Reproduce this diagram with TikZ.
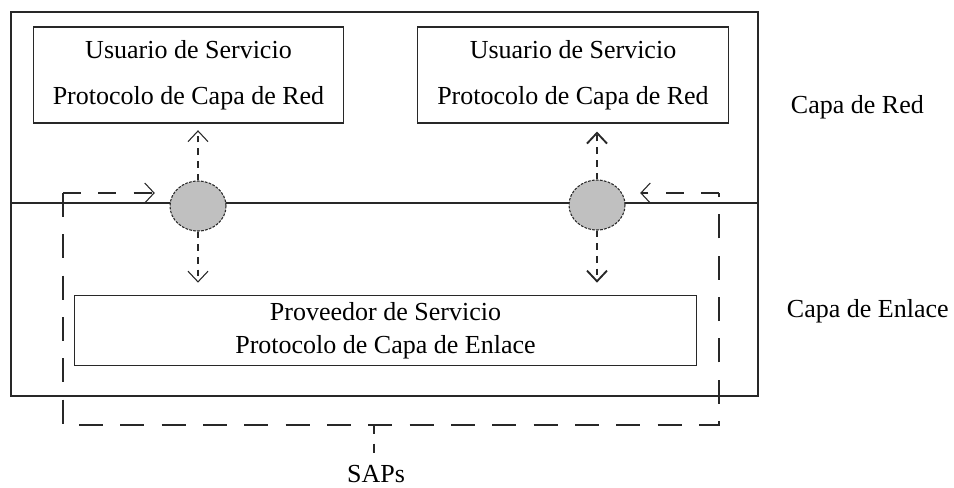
\documentclass[tikz,border=0pt]{standalone}
\usepackage{fontspec}
\setmainfont{Liberation Serif}
\definecolor{sapfill}{RGB}{192,192,192}
\definecolor{trazo}{RGB}{40,40,40}
\usetikzlibrary{arrows.meta,positioning,shapes.geometric}

\begin{document}
\begin{tikzpicture}[x=0.75pt, y=-0.75pt, line width=0.8pt, draw=trazo,
  caja/.style={draw, minimum width=233pt, minimum height=72pt, align=center, font=\fontsize{19.5}{34.5}\selectfont},
  sap/.style={draw, ellipse, dash pattern=on 2pt off 1pt, fill=sapfill, minimum width=42pt, minimum height=37.5pt, inner sep=0pt},
  flecha/.style={-{Straight Barb[length=8pt,width=15pt]}, dash pattern=on 5pt off 4.5pt},
  flechaH/.style={-{Straight Barb[length=7pt,width=15pt]}, dash pattern=on 13.5pt off 13pt, shorten >=11pt},
  marco/.style={dash pattern=on 18pt off 13pt},
  etiq/.style={font=\fontsize{19.5}{24}\selectfont}]
          \useasboundingbox (0,0) rectangle (954,487);
          % capas
          \draw (11,12) rectangle (758,396);
          \draw (11,203) -- (758,203);
          \node[caja] (usuarioA) at (188.5,75) {Usuario de Servicio\\Protocolo de Capa de Red};
          \node[caja] (usuarioB) at (573,75) {Usuario de Servicio\\Protocolo de Capa de Red};
          \node[caja, minimum width=467pt, minimum height=53pt, font=\fontsize{19.5}{25}\selectfont] (proveedor) at (385.5,330.5) {Proveedor de Servicio\\Protocolo de Capa de Enlace};
          \node[etiq, anchor=base west] (red) at (786,113) {Capa de Red};
          \node[etiq, anchor=base west] (enlace) at (782,317) {Capa de Enlace};
          % puntos de acceso
          \node[sap] (sapA) at (198,206) {};
          \node[sap] (sapB) at (597,205) {};
          \draw[flecha, shorten >=5pt] (sapA.north) -- (sapA |- usuarioA.south);
          \draw[flecha, shorten >=9pt] (sapA.south) -- (sapA |- proveedor.north);
          \draw[flecha, line width=1.4pt, shorten >=6pt] (sapB.north) -- (sapB |- usuarioB.south);
          \draw[flecha, line width=1.4pt, shorten >=9pt] (sapB.south) -- (sapB |- proveedor.north);
          % SAPs
          \coordinate (esqA) at (63,193);
          \coordinate (esqB) at (719,193);
          \coordinate (pie) at (374,425);
          \node[etiq, anchor=base] (saps) at (376,482) {SAPs};
          \draw[marco] (esqA) -- (esqA |- pie) -- (esqB |- pie) -- (esqB);
          \draw[flechaH] (esqA) -- (esqA -| sapA.west);
          \draw[flechaH] (esqB) -- (esqB -| sapB.east);
          \draw[dash pattern=on 7pt off 7pt, shorten >=2pt] (pie) -- (pie |- saps.north);
        \end{tikzpicture}
\end{document}
